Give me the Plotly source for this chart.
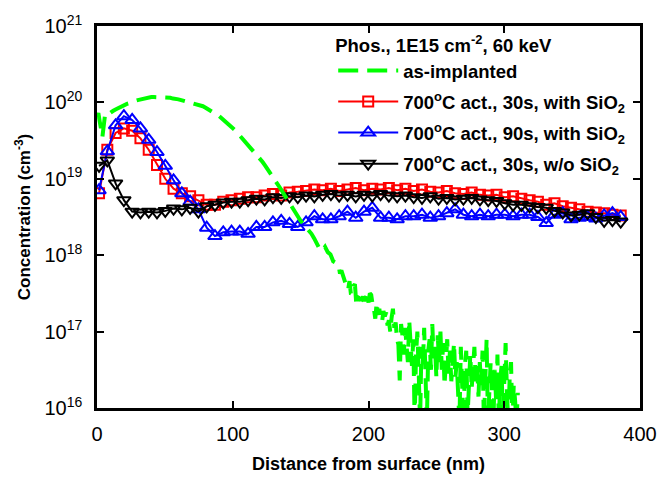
import plotly.graph_objects as go

# ---------------- data ----------------
# depth grid of the annealed SIMS profiles (nm)
depth_nm = [1.5, 7.6, 13.7, 19.8, 25.9, 32.0, 38.1, 44.2, 50.3, 56.4,
            62.5, 68.6, 74.7, 80.8, 86.9, 93.0, 99.1, 105.2, 111.3, 117.4,
            123.5, 129.6, 135.7, 141.8, 147.9, 154.0, 160.1, 166.2, 172.3, 178.4,
            184.5, 190.6, 196.7, 202.8, 208.9, 215.0, 221.1, 227.2, 233.3, 239.4,
            245.5, 251.6, 257.7, 263.8, 269.9, 276.0, 282.1, 288.2, 294.3, 300.4,
            306.5, 312.6, 318.7, 324.8, 330.9, 337.0, 343.1, 349.2, 355.3, 361.4,
            367.5, 373.6, 379.7, 385.8]

# log10 of concentration (cm^-3)
act30_sio2_log = [18.81, 19.38, 19.60, 19.66, 19.63, 19.53, 19.38, 19.18, 19.00, 18.87,
                  18.81, 18.77, 18.72, 18.66, 18.66, 18.70, 18.72, 18.74, 18.76, 18.76,
                  18.78, 18.80, 18.78, 18.82, 18.83, 18.84, 18.86, 18.85, 18.87, 18.84,
                  18.86, 18.88, 18.85, 18.87, 18.86, 18.88, 18.85, 18.87, 18.84, 18.86,
                  18.83, 18.82, 18.84, 18.81, 18.80, 18.82, 18.79, 18.78, 18.79, 18.76,
                  18.77, 18.74, 18.72, 18.70, 18.66, 18.68, 18.64, 18.62, 18.60, 18.57,
                  18.56, 18.55, 18.53, 18.52]

act90_sio2_log = [18.85, 19.36, 19.70, 19.82, 19.77, 19.66, 19.51, 19.35, 19.17, 18.98,
                  18.81, 18.70, 18.60, 18.36, 18.25, 18.30, 18.31, 18.31, 18.28, 18.37,
                  18.37, 18.43, 18.45, 18.41, 18.37, 18.43, 18.51, 18.47, 18.47, 18.51,
                  18.57, 18.49, 18.57, 18.62, 18.49, 18.49, 18.47, 18.51, 18.51, 18.53,
                  18.49, 18.51, 18.55, 18.60, 18.53, 18.51, 18.53, 18.51, 18.53, 18.53,
                  18.51, 18.53, 18.53, 18.50, 18.42, 18.53, 18.55, 18.47, 18.49, 18.50,
                  18.48, 18.52, 18.55, 18.50]

act30_nosio2_log = [19.17, 19.24, 18.94, 18.72, 18.57, 18.56, 18.57, 18.56, 18.58, 18.61,
                    18.60, 18.62, 18.57, 18.64, 18.66, 18.69, 18.70, 18.70, 18.72, 18.74,
                    18.73, 18.76, 18.75, 18.77, 18.76, 18.78, 18.77, 18.79, 18.80, 18.78,
                    18.79, 18.77, 18.79, 18.78, 18.80, 18.78, 18.77, 18.78, 18.76, 18.75,
                    18.77, 18.74, 18.75, 18.73, 18.74, 18.75, 18.73, 18.72, 18.71, 18.68,
                    18.66, 18.66, 18.64, 18.63, 18.62, 18.58, 18.56, 18.52, 18.53, 18.55,
                    18.50, 18.45, 18.46, 18.44]

# as-implanted profile
asimp_depth_nm = [0, 1, 2, 3, 4, 5, 6, 8, 10, 12, 14, 16, 18, 20, 22, 24, 26, 28, 30,
                  32, 34, 36, 38, 40, 42, 44, 46, 48, 50, 52, 54, 56, 58, 60, 62, 64,
                  66, 68, 70, 72, 74, 76, 78, 80, 82, 84, 86, 88, 90, 92, 94, 96, 98,
                  100, 102, 104, 106, 108, 110, 112, 114, 116, 118, 120, 122, 124, 126,
                  128, 130, 132, 134, 136, 138, 140, 142, 144, 146, 148, 150, 152, 154,
                  156, 158, 160, 162, 164, 166, 168, 170, 172, 174, 176, 178, 179, 180,
                  182, 184, 185, 186, 187, 188, 189, 190, 191, 192, 193, 195, 196, 197,
                  199, 200, 201, 202, 203, 204, 205, 206, 207, 208, 209, 210, 211, 212,
                  213, 214, 215, 216, 217, 218, 219, 220, 221, 222, 223, 224, 225, 226,
                  227, 228, 229, 230, 231, 232, 233, 234, 235, 236, 237, 238, 239, 240,
                  241, 242, 243, 244, 245, 246, 247, 248, 249, 250, 251, 252, 253, 254,
                  255, 256, 257, 258, 259, 260, 261, 262, 263, 264, 265, 266, 267, 268,
                  269, 270, 271, 272, 273, 274, 275, 276, 277, 278, 279, 280, 281, 282,
                  283, 284, 285, 286, 287, 288, 289, 290, 291, 292, 293, 294, 295, 296,
                  297, 298, 299, 300, 301, 302, 303, 304, 305, 306, 307, 308, 309, 310]
asimp_log = [19.80, 19.86, 19.75, 19.60, 19.55, 19.70, 19.85, 19.84, 19.87, 19.89, 19.91,
             19.93, 19.94, 19.96, 19.98, 19.99, 20.01, 20.02, 20.03, 20.04, 20.05, 20.06,
             20.06, 20.07, 20.07, 20.07, 20.07, 20.07, 20.07, 20.06, 20.06, 20.05, 20.05,
             20.04, 20.03, 20.02, 20.02, 20.01, 20.00, 19.99, 19.97, 19.96, 19.95, 19.93,
             19.91, 19.89, 19.87, 19.85, 19.82, 19.79, 19.76, 19.73, 19.70, 19.67, 19.63,
             19.59, 19.55, 19.51, 19.47, 19.43, 19.39, 19.35, 19.31, 19.27, 19.22, 19.17,
             19.12, 19.07, 19.02, 18.96, 18.91, 18.85, 18.79, 18.73, 18.68, 18.62, 18.56,
             18.50, 18.45, 18.41, 18.37, 18.33, 18.28, 18.22, 18.16, 18.08, 18.06, 18.11,
             18.04, 18.01, 17.92, 17.90, 17.86, 17.76, 17.80, 17.68, 17.58, 17.55, 17.66,
             17.50, 17.49, 17.60, 17.62, 17.36, 17.34, 17.44, 17.42, 17.46, 17.40, 17.49,
             17.38, 17.50, 17.48, 17.36, 17.30, 17.17, 17.38, 17.22, 17.30, 17.14, 17.13,
             17.27, 17.20, 17.25, 17.08, 17.15, 17.00, 17.18, 17.30, 17.05, 17.12, 16.90,
             16.83, 16.36, 17.10, 16.95, 16.70, 17.05, 16.75, 16.60, 17.15, 16.80, 16.55,
             16.90, 15.80, 16.70, 17.00, 16.45, 15.80, 16.80, 16.55, 17.05, 16.60, 15.80,
             16.75, 16.90, 16.50, 17.10, 16.65, 16.80, 16.40, 16.95, 16.60, 17.00, 16.50,
             16.85, 16.30, 16.70, 16.90, 16.45, 16.75, 16.35, 16.65, 16.85, 16.40, 16.60,
             16.20, 15.80, 16.80, 16.45, 15.80, 16.55, 16.75, 15.90, 16.40, 16.70, 16.25,
             16.50, 16.80, 16.35, 16.55, 16.15, 16.60, 16.30, 16.75, 15.80, 16.45, 16.90,
             15.80, 16.40, 16.60, 16.20, 15.80, 16.50, 16.10, 16.70, 15.80, 16.35, 16.55,
             15.80, 16.45, 16.85, 16.20, 15.80, 16.40, 16.60, 15.80, 16.30, 16.10, 15.80,
             16.20]

y_tick_exponents = [16, 17, 18, 19, 20, 21]
x_tick_values = [0, 100, 200, 300, 400]

legend_title = "Phos., 1E15 cm<sup>-2</sup>, 60 keV"
names = ["as-implanted",
         "700<sup>o</sup>C act., 30s, with SiO<sub>2</sub>",
         "700<sup>o</sup>C act., 90s, with SiO<sub>2</sub>",
         "700<sup>o</sup>C act., 30s, w/o SiO<sub>2</sub>"]

# ---------------- figure ----------------
def conc(logs):
    return [10.0 ** float(v) for v in logs]

FONT = "Liberation Sans, Arial, sans-serif"
fig = go.Figure()

fig.add_trace(go.Scatter(
    x=depth_nm, y=conc(act30_sio2_log), name=names[1], mode="lines+markers",
    line=dict(color="#ff0000", width=2),
    marker=dict(symbol="square-open", size=10, color="#ff0000", line=dict(width=2, color="#ff0000")),
    legendrank=2, legendgroup="r"))
fig.add_trace(go.Scatter(
    x=depth_nm, y=conc(act90_sio2_log), name=names[2], mode="lines+markers",
    line=dict(color="#0000ff", width=2),
    marker=dict(symbol="triangle-up-open", size=12, color="#0000ff", line=dict(width=2, color="#0000ff")),
    legendrank=3, legendgroup="b"))
fig.add_trace(go.Scatter(
    x=depth_nm, y=conc(act30_nosio2_log), name=names[3], mode="lines+markers",
    line=dict(color="#000000", width=2),
    marker=dict(symbol="triangle-down-open", size=12, color="#000000", line=dict(width=2, color="#000000")),
    legendrank=4, legendgroup="k"))
fig.add_trace(go.Scatter(
    x=asimp_depth_nm, y=conc(asimp_log), name=names[0], mode="lines",
    line=dict(color="#00ff00", width=4, dash="20px,9px"),
    legendrank=1, legendgroup="g"))

axis_common = dict(
    showline=True, linecolor="black", linewidth=2.5, mirror="ticks",
    ticks="inside", ticklen=7, tickwidth=2, tickcolor="black",
    showgrid=False, zeroline=False,
    tickfont=dict(family=FONT, size=20, color="black"),
)

fig.update_xaxes(
    range=[0, 400], tickvals=x_tick_values, ticktext=[str(v) for v in x_tick_values],
    title=dict(text="Distance from surface (nm)", font=dict(family=FONT, size=18, color="black", weight="bold"),
               standoff=14),
    ticklabelstandoff=6,
    **axis_common)
fig.update_yaxes(
    type="log", range=[16, 21],
    tickvals=[10.0 ** e for e in y_tick_exponents],
    ticktext=["10<sup>%d</sup>" % e for e in y_tick_exponents],
    title=dict(text="Concentration (cm<sup>-3</sup>)", font=dict(family=FONT, size=17, color="black", weight="bold"),
               standoff=10),
    ticklabelstandoff=8,
    **axis_common)

fig.update_layout(
    width=669, height=484,
    margin=dict(l=97, r=22, t=17, b=76),
    paper_bgcolor="white", plot_bgcolor="white",
    font=dict(family=FONT, color="black"),
    showlegend=True,
    legend=dict(
        x=0.435, y=0.995, xanchor="left", yanchor="top",
        bgcolor="rgba(0,0,0,0)", borderwidth=0,
        tracegroupgap=4, traceorder="grouped",
        font=dict(family=FONT, size=18.5, color="black", weight="bold"),
        title=dict(text=legend_title, font=dict(family=FONT, size=18.5, color="black", weight="bold")),
        itemwidth=60,
    ),
)

fig.write_html("out.html")
